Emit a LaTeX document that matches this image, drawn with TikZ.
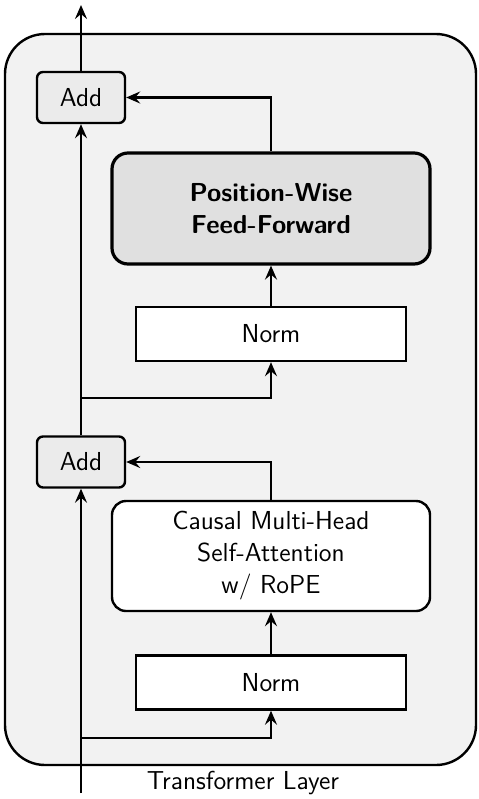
\documentclass[tikz,border=0pt]{standalone}
\usepackage{tikz}
\usetikzlibrary{positioning,arrows.meta}

\begin{document}
\begin{tikzpicture}[
  x=0.5pt, y=-0.5pt, line width=1.2pt,
  font=\sffamily\fontsize{13}{16}\selectfont,
  box/.style={draw=black, align=center, inner sep=3pt},
  addbox/.style={box, fill=black!8, rounded corners=3pt, minimum width=44pt, minimum height=25.5pt},
  normbox/.style={box, fill=white, minimum width=135pt, minimum height=27pt},
  ffnbox/.style={box, fill=black!12, line width=1.6pt, rounded corners=8pt, minimum width=159pt, minimum height=55.5pt, font=\sffamily\bfseries\fontsize{13}{16}\selectfont},
  attbox/.style={box, fill=white, rounded corners=7pt, minimum width=159pt, minimum height=55pt},
  arr/.style={-{Stealth[length=7pt, width=6pt, inset=2.5pt]}}]
  \useasboundingbox (0,0) rectangle (478,799);
  \draw[fill=black!5, rounded corners=20pt] (5,34) rectangle (476,765);
  \node[addbox] (addT) at (81,97.5) {Add};
  \node[ffnbox] (ffn) at (271,208.5) {Position-Wise\\Feed-Forward};
  \node[normbox] (normT) at (271,334) {Norm};
  \node[addbox] (addB) at (81,462) {Add};
  \node[attbox] (att) at (271,556) {Causal Multi-Head\\Self-Attention\\w/ RoPE};
  \node[normbox] (normB) at (271,682.5) {Norm};
  \node (title) at (243,783) {Transformer Layer};
  \coordinate (in) at (81,793);
  \coordinate (out) at (81,5);
  \coordinate (splitB) at (81,738);
  \coordinate (splitT) at (81,398);
  % residual path
  \draw[arr] (in) -- (addB);
  \draw[arr] (addB) -- (addT);
  \draw[arr] (addT) -- (out);
  % sublayer branches
  \foreach \s/\n in {splitB/normB, splitT/normT} \draw[arr] (\s) -| (\n);
  \draw[arr] (normB) -- (att);
  \draw[arr] (normT) -- (ffn);
  \foreach \a/\b in {att/addB, ffn/addT} \draw[arr] (\a.north) |- (\b.east);
\end{tikzpicture}
\end{document}
